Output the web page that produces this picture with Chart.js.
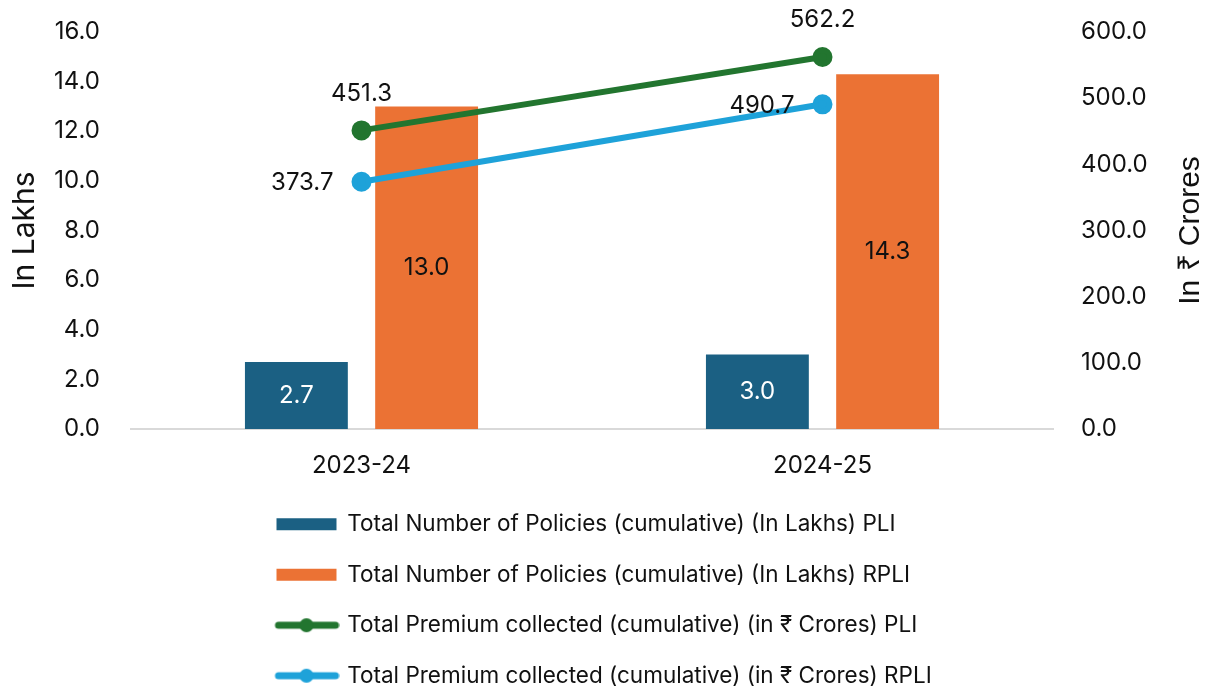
<!DOCTYPE html>
<html>
<head>
<meta charset="utf-8">
<script src="https://cdn.jsdelivr.net/npm/chart.js@4.4.1/dist/chart.umd.min.js"></script>
<style>
  html, body { margin: 0; padding: 0; background: #fff; }
  #wrap { width: 1211px; height: 686px; position: relative; }
</style>
</head>
<body>
<div id="wrap"><canvas id="myChart"></canvas></div>
<script>
// data
var years = ["2023-24", "2024-25"];
var policiesPLI = [2.7, 3.0];        // in lakhs
var policiesRPLI = [13.0, 14.3];     // in lakhs
var premiumPLI = [451.3, 562.2];     // in Rs crores
var premiumRPLI = [373.7, 490.7];    // in Rs crores
var lakhTicks = { min: 0, max: 16, step: 2 };
var croreTicks = { min: 0, max: 600, step: 100 };

var FONT = "Inter, 'Noto Sans', sans-serif";
var C_PLI_BAR = "#1b6083";
var C_RPLI_BAR = "#eb7234";
var C_PLI_LINE = "#22752f";
var C_RPLI_LINE = "#1ea2d9";

// little canvases used as legend markers
function marker(color, kind) {
  var c = document.createElement("canvas");
  c.width = 66; c.height = 16;
  var g = c.getContext("2d");
  g.fillStyle = color;
  if (kind == "bar") {
    g.fillRect(3, 2, 60, 12);
  } else {
    g.strokeStyle = color;
    g.lineWidth = 7;
    g.lineCap = "round";
    g.beginPath(); g.moveTo(5, 8); g.lineTo(62, 8); g.stroke();
    g.beginPath(); g.arc(33, 8, 7, 0, Math.PI * 2); g.fill();
  }
  return c;
}
var markers = [marker(C_PLI_BAR, "bar"), marker(C_RPLI_BAR, "bar"),
               marker(C_PLI_LINE, "line"), marker(C_RPLI_LINE, "line")];

// value labels on bars and points
var valueLabels = {
  id: "valueLabels",
  afterDatasetsDraw: function(chart) {
    var ctx = chart.ctx;
    ctx.save();
    ctx.font = "24px " + FONT;
    ctx.textBaseline = "middle";
    chart.data.datasets.forEach(function(ds, i) {
      var meta = chart.getDatasetMeta(i);
      meta.data.forEach(function(el, j) {
        var txt = ds.data[j].toFixed(1);
        ctx.fillStyle = ds.labelColor;
        if (meta.type == "bar") {
          ctx.textAlign = "center";
          ctx.fillText(txt, el.x, (el.y + el.base) / 2);
        } else if (ds.labelPos == "above") {
          ctx.textAlign = "center";
          ctx.fillText(txt, el.x, el.y - 37);
        } else {
          ctx.textAlign = "right";
          ctx.fillText(txt, el.x - 28, el.y + 1);
        }
      });
    });
    ctx.restore();
  }
};

// right axis title reads bottom-to-top like the left one
var rightTitle = {
  id: "rightTitle",
  afterDraw: function(chart) {
    var ctx = chart.ctx, a = chart.chartArea;
    ctx.save();
    ctx.translate(chart.scales.y1.right - 20, (a.top + a.bottom) / 2);
    ctx.rotate(-Math.PI / 2);
    ctx.font = "30px 'Liberation Sans', Arial, sans-serif";
    ctx.fillStyle = "#111";
    ctx.textAlign = "center";
    ctx.textBaseline = "middle";
    ctx.fillText("In \u20B9 Crores", 0, 0);
    ctx.restore();
  }
};

// stack legend rows under the plot, left edges lined up
var legendPlace = {
  id: "legendPlace",
  afterLayout: function(chart) {
    var lg = chart.legend;
    lg.left = 249;
    lg.top += 11;
    lg.bottom += 11;
  }
};

function fixY(width) {
  return function(s) {
    s.width = width;
    s.paddingTop = 32;
    s.paddingBottom = 10;
  };
}

var chart = new Chart(document.getElementById("myChart"), {
  type: "bar",
  data: {
    labels: years,
    datasets: [
      {
        label: "Total Number of Policies (cumulative) (In Lakhs) PLI",
        data: policiesPLI,
        backgroundColor: C_PLI_BAR,
        yAxisID: "y",
        order: 1,
        labelColor: "#ffffff",
        barPercentage: 0.79,
        categoryPercentage: 0.565
      },
      {
        label: "Total Number of Policies (cumulative) (In Lakhs) RPLI",
        data: policiesRPLI,
        backgroundColor: C_RPLI_BAR,
        yAxisID: "y",
        order: 1,
        labelColor: "#111111",
        barPercentage: 0.79,
        categoryPercentage: 0.565
      },
      {
        type: "line",
        label: "Total Premium collected (cumulative) (in \u20B9 Crores) PLI",
        data: premiumPLI,
        borderColor: C_PLI_LINE,
        backgroundColor: C_PLI_LINE,
        borderWidth: 6,
        pointRadius: 7,
        pointHoverRadius: 7,
        yAxisID: "y1",
        order: 0,
        labelColor: "#111111",
        labelPos: "above"
      },
      {
        type: "line",
        label: "Total Premium collected (cumulative) (in \u20B9 Crores) RPLI",
        data: premiumRPLI,
        borderColor: C_RPLI_LINE,
        backgroundColor: C_RPLI_LINE,
        borderWidth: 6,
        pointRadius: 7,
        pointHoverRadius: 7,
        yAxisID: "y1",
        order: 0,
        labelColor: "#111111",
        labelPos: "left"
      }
    ]
  },
  options: {
    responsive: true,
    maintainAspectRatio: false,
    animation: false,
    layout: { padding: 0 },
    plugins: {
      tooltip: { enabled: false },
      legend: {
        position: "bottom",
        align: "start",
        fullSize: false,
        labels: {
          usePointStyle: true,
          pointStyleWidth: 59,
          padding: 28,
          color: "#111",
          font: { family: FONT, size: 22.5 },
          sort: function(a, b) { return a.datasetIndex - b.datasetIndex; },
          generateLabels: function(chart) {
            var items = Chart.defaults.plugins.legend.labels.generateLabels(chart);
            items.forEach(function(it) { it.pointStyle = markers[it.datasetIndex]; });
            return items;
          }
        }
      }
    },
    scales: {
      x: {
        grid: { display: false, drawTicks: false },
        border: { display: true, color: "#d9d9d9", width: 2 },
        ticks: { color: "#111", padding: 22, font: { family: FONT, size: 24 } },
        afterFit: function(s) { s.height = 45; }
      },
      y: {
        position: "left",
        min: lakhTicks.min,
        max: lakhTicks.max,
        grid: { display: false, drawTicks: false },
        border: { display: false },
        ticks: {
          stepSize: lakhTicks.step,
          color: "#111",
          padding: 31,
          font: { family: FONT, size: 24 },
          callback: function(v) { return v.toFixed(1); }
        },
        title: {
          display: true,
          text: "In Lakhs",
          color: "#111",
          font: { family: FONT, size: 30 },
          padding: { top: 7, bottom: 0 }
        },
        afterFit: fixY(131)
      },
      y1: {
        position: "right",
        min: croreTicks.min,
        max: croreTicks.max,
        grid: { display: false, drawTicks: false },
        border: { display: false },
        ticks: {
          stepSize: croreTicks.step,
          color: "#111",
          padding: 28,
          font: { family: FONT, size: 24 },
          callback: function(v) { return v.toFixed(1); }
        },
        afterFit: fixY(158)
      }
    }
  },
  plugins: [valueLabels, rightTitle, legendPlace]
});
</script>
</body>
</html>
